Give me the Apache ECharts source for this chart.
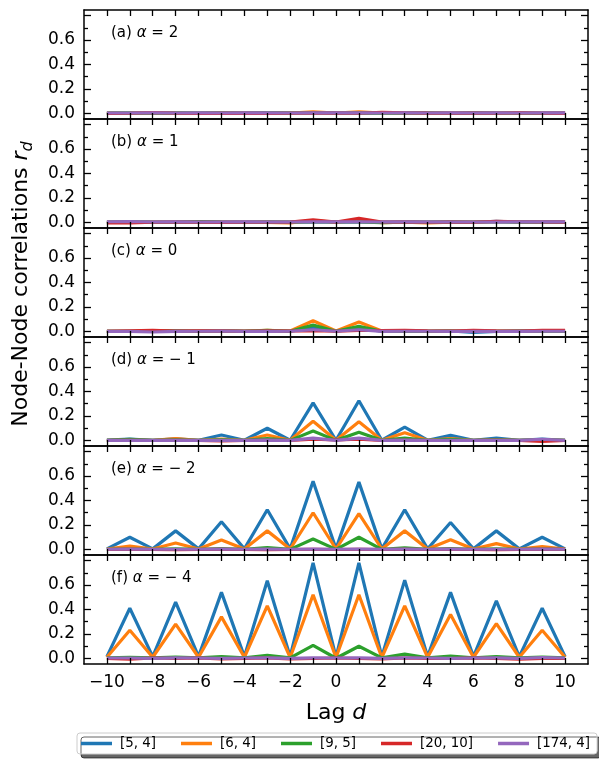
<html>
<head>
    <meta charset="utf-8">
    <script src="https://cdn.jsdelivr.net/npm/echarts@6/dist/echarts.min.js"></script>
</head>
<body style="margin:0">
<div id="main" style="width:599px;height:762px"></div>
<script>
    // lags on the x axis
    var lags = [-10, -9, -8, -7, -6, -5, -4, -3, -2, -1, 0, 1, 2, 3, 4, 5, 6, 7, 8, 9, 10];
    var xTickLabels = [-10, -8, -6, -4, -2, 0, 2, 4, 6, 8, 10];
    var yTickLabels = [0, 0.2, 0.4, 0.6];
    var yMajorTicks = [0, 0.2, 0.4, 0.6, 0.8];
    var yMinorTicks = [0.1, 0.3, 0.5, 0.7];

    var seriesNames = ['[5, 4]', '[6, 4]', '[9, 5]', '[20, 10]', '[174, 4]'];
    var colors = ['#1f77b4', '#ff7f0e', '#2ca02c', '#d62728', '#9467bd'];

    var panelTags = ['(a)', '(b)', '(c)', '(d)', '(e)', '(f)'];
    var alphaValues = ['2', '1', '0', '\u2212 1', '\u2212 2', '\u2212 4'];

    // rows: [5,4], [6,4], [9,5], [20,10], [174,4]
    var alphaP2 = [
        [0.005, 0.004, 0.003, 0.005, 0.004, 0.006, 0.004, 0.005, 0.004, 0.008, 0.004, 0.007, 0.004, 0.005, 0.006, 0.004, 0.005, 0.004, 0.005, 0.004, 0.005],
        [0.003, 0.002, 0.004, 0.003, 0.002, 0.004, 0.003, 0.004, 0.003, 0.014, 0.003, 0.014, 0.004, 0.003, 0.004, 0.003, 0.002, 0.003, 0.004, 0.003, 0.003],
        [0.002, 0.003, 0.002, 0.003, 0.004, 0.003, 0.004, 0.005, 0.003, 0.006, 0.003, 0.005, 0.003, 0.004, 0.003, 0.002, 0.004, 0.003, 0.002, 0.001, 0.002],
        [0.000, 0.002, 0.008, 0.002, 0.000, 0.002, 0.001, 0.000, 0.002, 0.004, 0.003, 0.002, 0.010, 0.006, 0.003, 0.002, 0.004, 0.002, 0.006, 0.002, 0.001],
        [0.004, 0.004, 0.005, 0.004, 0.005, 0.004, 0.005, 0.005, 0.004, 0.006, 0.005, 0.006, 0.004, 0.005, 0.004, 0.005, 0.004, 0.005, 0.004, 0.005, 0.005]
    ];
    var alphaP1 = [
        [0.004, 0.005, 0.003, 0.004, 0.003, 0.004, 0.003, 0.004, 0.002, 0.006, 0.003, 0.006, 0.003, 0.004, 0.003, 0.004, 0.002, 0.010, 0.004, 0.004, 0.004],
        [0.003, 0.003, 0.002, 0.002, 0.002, 0.002, 0.002, 0.001, -0.004, 0.016, 0.002, 0.016, -0.002, 0.003, -0.003, 0.002, 0.003, 0.006, 0.008, 0.004, 0.003],
        [0.002, 0.003, 0.002, 0.003, 0.007, 0.004, 0.002, 0.004, 0.003, 0.005, 0.006, 0.005, -0.002, 0.003, 0.002, 0.003, 0.004, 0.004, 0.003, 0.002, 0.002],
        [-0.004, -0.003, 0.002, 0.003, 0.002, 0.001, 0.002, 0.002, 0.003, 0.022, 0.003, 0.034, 0.004, 0.003, 0.002, 0.003, 0.002, 0.010, 0.006, 0.004, 0.003],
        [0.006, 0.008, 0.004, 0.005, 0.004, 0.004, 0.005, 0.004, 0.004, 0.006, 0.005, 0.006, 0.004, 0.005, 0.004, 0.004, 0.004, 0.003, 0.005, 0.005, 0.005]
    ];
    var alpha0 = [
        [0.002, 0.000, 0.004, 0.008, 0.004, 0.005, 0.004, 0.006, 0.003, 0.030, 0.002, 0.026, 0.002, 0.005, 0.002, 0.004, -0.008, 0.000, 0.004, 0.005, 0.004],
        [0.002, 0.004, 0.002, 0.004, 0.005, 0.006, 0.004, 0.009, 0.004, 0.088, 0.004, 0.078, 0.004, 0.006, 0.002, 0.004, 0.004, 0.004, 0.002, 0.004, 0.004],
        [0.001, 0.002, 0.002, 0.004, 0.002, 0.006, 0.002, 0.010, 0.002, 0.052, 0.002, 0.042, 0.002, 0.005, 0.002, 0.004, 0.002, 0.001, 0.004, 0.002, 0.002],
        [0.001, 0.005, 0.009, 0.004, 0.005, 0.006, 0.002, 0.005, 0.004, 0.006, 0.002, 0.008, 0.008, 0.010, 0.006, 0.004, 0.009, 0.005, 0.004, 0.009, 0.010],
        [0.001, 0.001, -0.004, 0.001, 0.002, 0.004, 0.001, 0.001, 0.002, 0.014, 0.002, 0.014, 0.001, 0.002, 0.002, 0.001, 0.001, 0.002, 0.001, 0.002, 0.002]
    ];
    var alphaM1 = [
        [0.003, 0.012, 0.002, 0.014, 0.002, 0.045, 0.002, 0.100, 0.002, 0.307, 0.002, 0.325, 0.002, 0.110, 0.002, 0.042, 0.002, 0.020, 0.002, 0.012, 0.002],
        [0.002, 0.006, 0.002, 0.016, 0.002, 0.012, 0.002, 0.045, 0.002, 0.157, 0.002, 0.152, 0.002, 0.064, 0.002, 0.016, 0.002, 0.006, 0.002, 0.006, 0.002],
        [0.001, 0.010, 0.001, 0.006, 0.001, 0.006, 0.001, 0.016, 0.001, 0.077, 0.001, 0.067, 0.001, 0.020, 0.001, 0.010, 0.001, 0.005, 0.001, 0.005, 0.001],
        [0.000, 0.001, 0.000, 0.001, 0.000, -0.004, 0.000, 0.001, 0.000, 0.010, 0.004, 0.010, 0.000, 0.001, 0.000, 0.000, 0.000, 0.001, 0.000, -0.008, 0.000],
        [0.001, 0.002, 0.001, 0.002, 0.001, 0.002, 0.001, 0.003, 0.001, 0.020, 0.001, 0.020, 0.001, 0.003, 0.001, 0.002, 0.001, 0.002, 0.001, 0.010, 0.001]
    ];
    var alphaM2 = [
        [0.005, 0.100, 0.005, 0.152, 0.005, 0.227, 0.005, 0.325, 0.005, 0.557, 0.005, 0.550, 0.005, 0.325, 0.005, 0.220, 0.005, 0.152, 0.005, 0.100, 0.005],
        [0.004, 0.027, 0.004, 0.053, 0.004, 0.077, 0.004, 0.152, 0.004, 0.300, 0.004, 0.292, 0.004, 0.152, 0.004, 0.080, 0.004, 0.048, 0.004, 0.024, 0.004],
        [0.001, 0.004, 0.001, 0.006, 0.001, 0.008, 0.001, 0.016, 0.001, 0.085, 0.001, 0.100, 0.001, 0.014, 0.001, 0.008, 0.001, 0.006, 0.001, 0.004, 0.001],
        [0.000, 0.001, 0.000, -0.002, 0.000, 0.001, 0.000, -0.002, 0.000, 0.002, 0.000, 0.001, 0.000, 0.001, 0.000, 0.002, 0.000, -0.001, 0.000, 0.001, 0.002],
        [0.002, 0.003, 0.002, 0.002, 0.002, 0.003, 0.002, 0.003, 0.002, 0.004, 0.002, 0.004, 0.002, 0.003, 0.002, 0.003, 0.002, 0.002, 0.002, 0.003, 0.002]
    ];
    var alphaM4 = [
        [0.015, 0.410, 0.015, 0.460, 0.015, 0.540, 0.015, 0.635, 0.015, 0.780, 0.010, 0.780, 0.015, 0.640, 0.015, 0.540, 0.015, 0.470, 0.015, 0.410, 0.015],
        [0.010, 0.230, 0.010, 0.280, 0.010, 0.340, 0.010, 0.430, 0.008, 0.520, 0.008, 0.520, 0.008, 0.430, 0.010, 0.360, 0.010, 0.285, 0.010, 0.230, 0.010],
        [0.005, 0.010, 0.005, 0.012, 0.005, 0.015, 0.005, 0.025, 0.005, 0.107, 0.002, 0.100, 0.005, 0.035, 0.005, 0.020, 0.005, 0.015, 0.005, 0.012, 0.005],
        [0.000, -0.005, 0.004, 0.000, 0.004, -0.004, 0.000, 0.004, -0.004, 0.000, 0.004, 0.000, -0.004, 0.004, 0.000, 0.000, 0.004, 0.000, -0.005, 0.000, 0.000],
        [0.004, 0.004, 0.001, 0.005, 0.004, 0.001, 0.004, 0.005, 0.001, 0.005, 0.004, 0.005, 0.001, 0.005, 0.004, 0.001, 0.004, 0.005, 0.001, 0.008, 0.004]
    ];
    var panels = [alphaP2, alphaP1, alpha0, alphaM1, alphaM2, alphaM4];

    var font = 'DejaVu Sans';
    var gridLeft = 84, gridRight = 11, gridTop = 10, panelH = 109;
    var yMin = -0.045, yMax = 0.845;

    var chart = echarts.init(document.getElementById('main'));

    var grids = [], xAxes = [], yAxes = [], series = [], graphics = [];

    var spine = {show: true, onZero: false, lineStyle: {color: '#000', width: 1.5}};
    var noLine = {show: false, onZero: false};

    function xLabel(v) {
        return String(v).replace('-', '\u2212');
    }

    panels.forEach(function (rows, p) {
        var top = gridTop + p * panelH;
        grids.push({
            left: gridLeft, right: gridRight, top: top, height: panelH
        });
        ['bottom', 'top'].forEach(function (pos) {
            xAxes.push({
                type: 'value', gridIndex: p, position: pos, min: -11, max: 11,
                axisLine: spine,
                splitLine: {show: false},
                axisTick: {show: true, inside: true, length: 6, customValues: lags,
                           lineStyle: {color: '#000', width: 1.3}},
                axisLabel: {
                    show: pos === 'bottom' && p === panels.length - 1,
                    customValues: xTickLabels,
                    margin: 10,
                    fontFamily: font, fontSize: 17, color: '#000',
                    formatter: xLabel
                },
                z: 10
            });
        });
        ['left', 'right'].forEach(function (pos) {
            [true, false].forEach(function (major) {
                yAxes.push({
                    type: 'value', gridIndex: p, position: pos, min: yMin, max: yMax,
                    axisLine: major ? spine : noLine,
                    splitLine: {show: false},
                    axisTick: {show: true, inside: true, length: major ? 7 : 4,
                               customValues: major ? yMajorTicks : yMinorTicks,
                               lineStyle: {color: '#000', width: 1.3}},
                    axisLabel: {
                        show: pos === 'left' && major,
                        customValues: yTickLabels,
                        margin: 9,
                        fontFamily: font, fontSize: 17, color: '#000',
                        formatter: function (v) { return v.toFixed(1); }
                    },
                    z: 10
                });
            });
        });
        rows.forEach(function (vals, s) {
            series.push({
                name: seriesNames[s],
                type: 'line',
                xAxisIndex: p * 2,
                yAxisIndex: p * 4,
                showSymbol: false,
                silent: true,
                color: colors[s],
                lineStyle: {width: 3.2, color: colors[s]},
                data: lags.map(function (d, i) { return [d, vals[i]]; })
            });
        });
        graphics.push({
            type: 'text', left: 111, top: top + 16,
            style: {
                text: '{n|' + panelTags[p] + ' }{i|\u03b1}{n| = ' + alphaValues[p] + '}',
                rich: {
                    n: {fontFamily: font, fontSize: 15, fill: '#000'},
                    i: {fontFamily: font, fontSize: 15, fontStyle: 'italic', fill: '#000'}
                }
            }
        });
    });

    graphics.push({
        type: 'text', x: 23, y: 284, rotation: Math.PI / 2,
        style: {
            text: '{n|Node-Node correlations }{i|r}{s|d}',
            align: 'center', verticalAlign: 'middle',
            rich: {
                n: {fontFamily: font, fontSize: 22, fill: '#000', verticalAlign: 'top'},
                i: {fontFamily: font, fontSize: 22, fontStyle: 'italic', fill: '#000', verticalAlign: 'top'},
                s: {fontFamily: font, fontSize: 16, fontStyle: 'italic', fill: '#000', verticalAlign: 'top', padding: [10, 0, 0, 0]}
            }
        }
    });
    graphics.push({
        type: 'text', x: 336, y: 713,
        style: {
            text: '{n|Lag }{i|d}',
            align: 'center', verticalAlign: 'middle',
            rich: {
                n: {fontFamily: font, fontSize: 22, fill: '#000'},
                i: {fontFamily: font, fontSize: 22, fontStyle: 'italic', fill: '#000'}
            }
        }
    });

    var option = {
        animation: false,
        grid: grids,
        xAxis: xAxes,
        yAxis: yAxes,
        series: series,
        graphic: graphics,
        legend: {
            data: seriesNames,
            left: 77, top: 733,
            icon: 'rect', itemWidth: 31, itemHeight: 3.5, itemGap: 25,
            padding: [4, 7, 4, 4],
            backgroundColor: '#fff',
            borderColor: '#cccccc', borderWidth: 1, borderRadius: 3,
            shadowColor: 'rgba(0, 0, 0, 0.6)', shadowBlur: 0, shadowOffsetX: 4, shadowOffsetY: 4,
            selectedMode: false,
            textStyle: {fontFamily: font, fontSize: 13.4, color: '#000', padding: [0, 0, 0, 3]}
        }
    };

    chart.setOption(option);
</script>
</body>
</html>
